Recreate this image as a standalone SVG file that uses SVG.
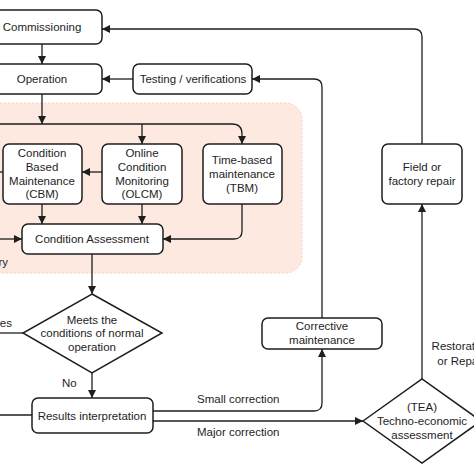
<svg xmlns="http://www.w3.org/2000/svg" width="474" height="474" viewBox="0 0 474 474">
<style>
.box{fill:#fff;stroke:#1e1e1e;stroke-width:1.5}
.ln{fill:none;stroke:#1e1e1e;stroke-width:1.3}
.t{font-family:"Liberation Sans",Arial,sans-serif;font-size:11.5px;fill:#1e1e1e;text-anchor:middle}
.l{font-family:"Liberation Sans",Arial,sans-serif;font-size:11.5px;fill:#1e1e1e}
</style>
<defs>
<marker id="ah" viewBox="0 0 10 10" refX="10" refY="5" markerWidth="8" markerHeight="8" markerUnits="userSpaceOnUse" orient="auto">
<path d="M0,0 L10,5 L0,10 z" fill="#1e1e1e"/>
</marker>
</defs>
<rect width="474" height="474" fill="#fff"/>
<rect id="region" x="-20" y="103" width="322" height="170" rx="16" fill="#fde9df" stroke="#f5d3c4" stroke-width="1" stroke-dasharray="2 2"/>
<g id="connectors">
<path class="ln" d="M42,44 V64" marker-end="url(#ah)"/>
<path class="ln" d="M422,144 V37 Q422,29 414,29 H102" marker-end="url(#ah)"/>
<path class="ln" d="M133,79 H102" marker-end="url(#ah)"/>
<path class="ln" d="M322,318 V87 Q322,79 314,79 H252" marker-end="url(#ah)"/>
<path class="ln" d="M42,94 V124" marker-end="url(#ah)"/>
<path class="ln" d="M-5,124 H232 Q242,124 242,134 V144" marker-end="url(#ah)"/>
<path class="ln" d="M142,124 V144" marker-end="url(#ah)"/>
<path class="ln" d="M102,172 H82" marker-end="url(#ah)"/>
<path class="ln" d="M3,172 H-5"/>
<path class="ln" d="M42,204 V224" marker-end="url(#ah)"/>
<path class="ln" d="M142,204 V224" marker-end="url(#ah)"/>
<path class="ln" d="M242,204 V231 Q242,239 234,239 H163" marker-end="url(#ah)"/>
<path class="ln" d="M-5,239 H22" marker-end="url(#ah)"/>
<path class="ln" d="M92,254 V294" marker-end="url(#ah)"/>
<path class="ln" d="M23,333 H-5"/>
<path class="ln" d="M92,373 V398" marker-end="url(#ah)"/>
<path class="ln" d="M32,415 H-5"/>
<path class="ln" d="M153,411 H314 Q322,411 322,403 V349" marker-end="url(#ah)"/>
<path class="ln" d="M153,421 H363" marker-end="url(#ah)"/>
<path class="ln" d="M422,379 V204" marker-end="url(#ah)"/>
<text class="l" x="8" y="266" text-anchor="end">ry</text>
<text class="l" x="12" y="327" text-anchor="end">es</text>
<text class="l" x="62" y="387">No</text>
<text class="l" x="197" y="403">Small correction</text>
<text class="l" x="197" y="436">Major correction</text>
<text class="t" x="461" y="350">Restoration</text>
<text class="t" x="461" y="365">or Repair</text>
</g>
<g id="commissioning">
<rect class="box" x="-18" y="10" width="120" height="34" rx="6"/>
<text class="t" x="42" y="31">Commissioning</text>
</g>
<g id="operation">
<rect class="box" x="-18" y="64" width="120" height="30" rx="6"/>
<text class="t" x="42" y="83">Operation</text>
</g>
<g id="testing">
<rect class="box" x="133" y="64" width="119" height="30" rx="6"/>
<text class="t" x="193" y="83">Testing / verifications</text>
</g>
<g id="cbm">
<rect class="box" x="3" y="144" width="79" height="60" rx="6"/>
<text class="t" x="42" y="157">Condition</text>
<text class="t" x="42" y="171">Based</text>
<text class="t" x="42" y="185">Maintenance</text>
<text class="t" x="42" y="198">(CBM)</text>
</g>
<g id="olcm">
<rect class="box" x="102" y="144" width="80" height="60" rx="6"/>
<text class="t" x="142" y="157">Online</text>
<text class="t" x="142" y="171">Condition</text>
<text class="t" x="142" y="185">Monitoring</text>
<text class="t" x="142" y="198">(OLCM)</text>
</g>
<g id="tbm">
<rect class="box" x="203" y="144" width="79" height="60" rx="6"/>
<text class="t" x="242" y="164">Time-based</text>
<text class="t" x="242" y="178">maintenance</text>
<text class="t" x="242" y="192">(TBM)</text>
</g>
<g id="condition-assessment">
<rect class="box" x="22" y="224" width="141" height="30" rx="6"/>
<text class="t" x="92" y="243">Condition Assessment</text>
</g>
<g id="meets">
<polygon class="box" points="92,294 162,333 92,373 23,333"/>
<text class="t" x="92" y="324">Meets the</text>
<text class="t" x="92" y="337">conditions of normal</text>
<text class="t" x="92" y="351">operation</text>
</g>
<g id="results">
<rect class="box" x="32" y="398" width="121" height="35" rx="6"/>
<text class="t" x="92" y="420">Results interpretation</text>
</g>
<g id="corrective">
<rect class="box" x="262" y="318" width="120" height="31" rx="6"/>
<text class="t" x="322" y="330">Corrective</text>
<text class="t" x="322" y="344">maintenance</text>
</g>
<g id="field-repair">
<rect class="box" x="382" y="144" width="80" height="60" rx="6"/>
<text class="t" x="422" y="171">Field or</text>
<text class="t" x="422" y="185">factory repair</text>
</g>
<g id="tea">
<polygon class="box" points="363,421 422,379 481,421 422,463"/>
<text class="t" x="422" y="411">(TEA)</text>
<text class="t" x="422" y="425">Techno-economic</text>
<text class="t" x="422" y="439">assessment</text>
</g>
</svg>
